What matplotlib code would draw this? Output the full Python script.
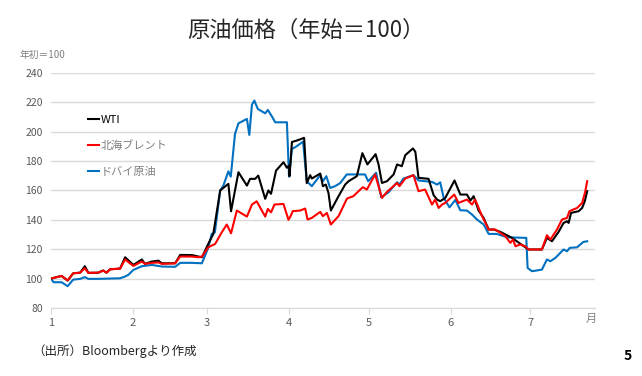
import matplotlib
matplotlib.use("Agg")
import matplotlib.pyplot as plt

plt.rcParams['font.family'] = ['Noto Sans CJK JP', 'DejaVu Sans']

# days since Jan 1, values indexed to start of year = 100
wti_days = [0, 4, 6.3, 8.4, 11, 12.8, 14.1, 17.8, 19.7, 21, 22.3, 26.1, 28, 31.1, 34.3, 35.5,
            38.1, 40.6, 41.8, 46.9, 48.8, 53.2, 55.7, 57, 59.4, 61.3, 63.9, 67, 68, 70.8, 74,
            75.2, 77.1, 78.3, 80.9, 82.1, 83.1, 85, 87.8, 89.1, 89.9, 90.1, 91, 92.9, 95.6, 96.6,
            97.9, 98.5, 101.7, 102.7, 103.8, 104.8, 105.7, 108.6, 111.1, 112.4, 115.5, 117.6,
            119.5, 122.6, 123.7, 125, 126.9, 129.4, 130.7, 132.5, 133.8, 136.7, 137.6, 138.8,
            142.6, 144.5, 145.8, 147, 148.9, 152.4, 154.6, 157.1, 158.4, 159.6, 161.5, 163.4,
            165.3, 167.2, 169.7, 172.2, 174.1, 177, 179.8, 180.4, 185.4, 187.3, 189.2, 191.7,
            193.6, 194.9, 195.5, 196.4, 199.3, 200.6, 201.6, 202.5]
wti = [100, 101.8, 98.6, 103.6, 104, 108.4, 103.9, 104, 105.5, 104, 106.3, 106.8, 114.5, 109.3,
       113, 110, 111.6, 112.2, 110.4, 110.4, 116.1, 116, 115, 114.5, 123.6, 130.4, 160, 164.5,
       145.8, 172.4, 163.3, 167.9, 167.9, 170.1, 154.3, 160, 157.7, 173.5, 179.2, 175.4, 177,
       169.7, 193, 194, 195.8, 165, 170.4, 168.1, 171.5, 162.9, 164, 158.3, 146.3, 156.1, 164,
       166.3, 169.7, 185.4, 177.7, 184.7, 177.7, 165.1, 166.3, 170.9, 177.7, 176.5, 184, 188.6,
       186.3, 168.6, 167.9, 156.8, 153.8, 152.7, 154.9, 166.8, 157.2, 157.2, 153.1, 156.1, 146.3,
       141.3, 133.4, 133.4, 131.8, 129.5, 127.7, 124, 120.5, 119.8, 119.8, 127.7, 125.4, 131.8,
       137.9, 139, 137.9, 144.7, 145.9, 148.1, 152.7, 159.5]

brent_days = [0, 4, 6.3, 8.4, 11, 12.8, 14.1, 17.8, 19.7, 21, 22.3, 26.1, 28, 31.1, 34.3, 35.5,
              38.1, 40.6, 41.8, 46.9, 48.8, 53.2, 55.7, 57, 59.4, 62, 64.5, 66.4, 68, 70.2, 74,
              75.9, 77.7, 80.9, 81.9, 83.1, 84.4, 87.8, 89.7, 90.5, 91.3, 94.1, 96, 96.9, 98.5,
              101.7, 102.7, 104.2, 105.7, 108.6, 111.8, 114.2, 116.8, 117.8, 119.3, 122.4, 125,
              126.9, 130.7, 131.6, 133.8, 136.9, 138.8, 141.3, 143.9, 145.1, 146.4, 147.7, 148.9,
              152.3, 153.9, 157.1, 159, 160.2, 162.8, 165.3, 167.8, 169.7, 171.6, 173.5, 174.5,
              175.4, 177.2, 179.1, 180.4, 185.4, 187.3, 188.6, 191.1, 193, 194.9, 195.8, 198.7,
              200.6, 201.8, 202.5]
brent = [100, 101.8, 98.8, 103.6, 104, 107, 103.9, 104, 105.4, 104, 106.3, 106.8, 113, 108.6,
         111.6, 110, 110.7, 111, 110, 110.4, 115, 115, 114.5, 115, 121.3, 123.6, 131.5, 136.8,
         130.8, 146.3, 142.2, 150.4, 152.6, 142.2, 147.4, 145.1, 150.4, 150.8, 140, 142.5, 145.9,
         146.3, 147.7, 140.2, 141.3, 145.4, 142.5, 144.7, 136.8, 142.5, 154.5, 156.1, 160.6,
         162.2, 160.6, 170.9, 154.9, 159, 165.1, 162.9, 168.1, 170.4, 159.5, 160.6, 150.4, 153.8,
         148.1, 150.4, 151.5, 157.2, 151.5, 153.8, 150.4, 153.8, 142.5, 133.4, 133.4, 131.1,
         128.8, 124.3, 126.6, 122, 123.2, 122, 119.8, 119.8, 129.5, 126.6, 133.4, 140.2, 141.3,
         145.9, 148.1, 151.5, 159.5, 166.3]

dubai_days = [0, 1, 4, 6.3, 8.4, 11, 12.8, 14.1, 17.8, 26.1, 28, 29.2, 31.1, 34.3, 38.1, 41.8,
              46.9, 48.8, 53.2, 57, 59.4, 60.7, 61.9, 63.9, 65.1, 67, 67.9, 69.5, 70.8, 74, 74.9,
              75.9, 76.8, 78.1, 80.9, 81.9, 83.4, 84.7, 89.1, 89.9, 91, 92.2, 95.2, 96.6, 98.5,
              101.7, 102.7, 104, 105.4, 107.3, 109.2, 111.7, 118.6, 119.8, 122.8, 124.7, 127.5,
              130.7, 131.6, 133.1, 136.9, 138.8, 143.9, 145.8, 147, 148.3, 150.5, 152.7, 154.6,
              157.1, 159, 160.9, 163.4, 165.3, 168.4, 172.2, 179.5, 180, 181.7, 185.4, 187.3,
              188.6, 190.5, 193.6, 194.9, 195.9, 198.7, 201, 202.5]
dubai = [100, 97.5, 97.5, 94.8, 99.3, 99.8, 101, 99.8, 99.8, 100.2, 101.4, 102.5, 105.9, 108.4,
         109.3, 108.2, 108, 110.7, 110.7, 110.4, 121, 130.4, 131.5, 159.9, 163.3, 173, 169.4,
         198.5, 205.7, 208.7, 197.8, 218.4, 221.2, 215.5, 212.5, 214.8, 210.5, 206.4, 206.4,
         169.4, 188.3, 189.4, 193.2, 166.3, 162.9, 170.4, 166.3, 169.7, 161.7, 162.9, 165, 170.9,
         170.9, 166.3, 172, 155.4, 158.8, 165.6, 164, 168.1, 170.4, 166.8, 165.8, 164, 165.5, 155,
         148.5, 153.5, 146.5, 146.3, 143.6, 140.2, 136.8, 130.4, 130.4, 128.1, 127.7, 107.2, 105,
         106.1, 113, 111.8, 114.1, 119.8, 118.6, 120.9, 121.3, 124.9, 125.4]

month_days = [0, 31, 59, 90, 120, 151, 181]
month_labels = ['1', '2', '3', '4', '5', '6', '7']
yticks = [80, 100, 120, 140, 160, 180, 200, 220, 240]

fig = plt.figure(figsize=(6.42, 3.76), dpi=100)
ax = fig.add_axes([0.0794, 0.181, 0.848, 0.625])

ax.plot(wti_days, wti, color='black', lw=1.5, label='WTI', zorder=3)
ax.plot(brent_days, brent, color='#ff0000', lw=1.5, label='北海ブレント', zorder=3)
ax.plot(dubai_days, dubai, color='#0070c0', lw=1.5, label='ドバイ原油', zorder=2)

ax.set_xlim(0, 205.6)
ax.set_ylim(80, 240)
ax.set_yticks(yticks)
ax.set_xticks(month_days)
ax.set_xticklabels(month_labels)
ax.yaxis.grid(True, color='#d9d9d9', lw=1)
ax.set_axisbelow(True)
for s in ['top', 'right', 'left']:
    ax.spines[s].set_visible(False)
ax.spines['bottom'].set_color('#d9d9d9')
ax.tick_params(axis='y', length=0, labelsize=7.5, labelcolor='#595959', pad=6)
ax.tick_params(axis='x', length=4, color='#d9d9d9', labelsize=8, labelcolor='#595959', pad=3)

leg = ax.legend(loc='upper left', bbox_to_anchor=(0.05, 0.865), frameon=False, fontsize=8,
                handlelength=1.0, handletextpad=0.1, labelspacing=1.4,
                labelcolor=['black', '#7f7f7f', '#7f7f7f'])

fig.text(0.477, 0.92, '原油価格（年始＝100）', ha='center', va='center', fontsize=16,
         color='#262626')
fig.text(0.03, 0.853, '年初＝100', ha='left', va='center', fontsize=7, color='#7f7f7f')
fig.text(0.913, 0.153, '月', ha='left', va='center', fontsize=8, color='#7f7f7f')
fig.text(0.05, 0.066, '（出所）Bloombergより作成', ha='left', va='center', fontsize=9,
         color='#262626')
fig.text(0.977, 0.052, '5', ha='center', va='center', fontsize=10, fontweight='bold',
         color='black')

fig.savefig('out.png', dpi=100)
